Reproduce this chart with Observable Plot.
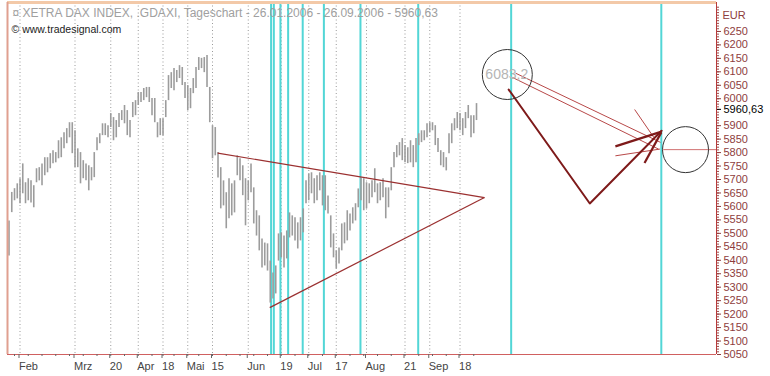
<!DOCTYPE html>
<html><head><meta charset="utf-8">
<script src="https://cdn.jsdelivr.net/npm/d3@7"></script>
<script src="https://cdn.jsdelivr.net/npm/@observablehq/plot@0.6"></script>
<style>html,body{margin:0;padding:0;background:#fff;} svg{display:block}</style>
</head><body><div id="chart"></div>
<script>
// Daily bars (trading-day index 0 = 26.01.2006 ... 170 = 26.09.2006)
const highs = [5546,5652,5666,5684,5703,5758,5688,5703,5695,5677,5740,5744,5758,5781,5781,5796,5807,5800,5844,5855,
5874,5889,5911,5911,5881,5814,5800,5770,5758,5751,5744,5800,5855,5870,5907,5907,5900,5945,5930,5919,
5945,5956,5975,5956,5919,5986,5993,6023,6023,6038,6042,6042,6001,6001,5911,5926,5926,5993,6086,6097,
6112,6105,6123,6116,6060,6049,6038,6075,6116,6153,6150,6153,6161,6042,5900,5893,5800,5744,5695,5651,
5703,5684,5695,5788,5777,5751,5703,5695,5758,5669,5584,5565,5479,5464,5461,5397,5353,5379,5498,5502,
5490,5509,5576,5565,5558,5539,5558,5591,5695,5721,5725,5703,5714,5725,5714,5714,5639,5565,5498,5435,
5446,5535,5539,5584,5572,5595,5610,5665,5706,5703,5688,5684,5695,5740,5684,5688,5703,5669,5669,5744,
5800,5826,5837,5852,5826,5818,5844,5826,5852,5870,5881,5881,5907,5911,5911,5900,5852,5807,5800,5781,
5870,5907,5926,5949,5945,5926,5949,5975,5937,5937,5982];
const lows = [5416,5577,5621,5628,5610,5647,5610,5621,5613,5595,5688,5695,5677,5714,5725,5740,5759,5762,5777,5781,
5814,5833,5855,5796,5744,5744,5684,5703,5695,5658,5695,5707,5807,5833,5863,5863,5855,5893,5844,5855,
5893,5919,5907,5863,5855,5930,5937,5975,5986,5993,6004,5986,5937,5911,5855,5863,5863,5930,5993,6038,
6030,6060,6075,6049,6001,5956,5963,6019,6038,6105,6112,6097,6042,5911,5777,5788,5706,5591,5602,5517,
5554,5565,5576,5714,5695,5640,5528,5621,5651,5535,5490,5435,5371,5379,5360,5241,5256,5275,5397,5409,
5371,5405,5483,5490,5472,5442,5472,5502,5610,5621,5647,5610,5621,5658,5602,5584,5572,5446,5409,5368,
5386,5435,5461,5472,5509,5535,5546,5595,5621,5584,5591,5610,5632,5651,5610,5621,5632,5554,5595,5658,
5744,5781,5788,5770,5762,5759,5762,5744,5762,5826,5837,5844,5855,5874,5881,5826,5800,5751,5744,5732,
5796,5833,5881,5889,5881,5863,5889,5926,5855,5870,5919];
const lastPrice = 5960.63;

// Axis ticks
const xTickIdx = [4, 24, 37, 47, 56, 65, 74, 87, 99, 109, 119, 130, 144, 153, 164];
const xTickLabels = ["Feb","Mrz","20","Apr","18","Mai","15","Jun","19","Jul","17","Aug","21","Sep","18"];
const weekIdx = [2,7,12,17,22,27,32,37,42,47,52,56,60,65,69,74,79,84,89,94,99,104,109,114,119,124,129,134,139,144,149,154,159,164,169];
const yTickVals = [5050,5100,5150,5200,5250,5300,5350,5400,5450,5500,5550,5600,5650,5700,5750,5800,5850,5900,6000,6050,6100,6150,6200,6250];

// Drawing tools (time lines, trend lines, circles, arrows)
const cyanLines = [95.3, 96.3, 98.7, 101.5, 106.8, 114.5, 127.8, 148.8, 182.6, 237.2];
const trendLines = [
  {x1: 75.9, y1: 5798, x2: 172.9, y2: 5633},
  {x1: 94.8, y1: 5224, x2: 172.9, y2: 5633}
];
const bigCircle = [{x: 181.2, y: 6090}];
const smallCircle = [{x: 246.0, y: 5811}];
const circleText = [{x: 181.0, y: 6090, t: "6083,2"}];
const arrowPath = [{x: 181.7, y: 6034}, {x: 211.2, y: 5611}, {x: 237.3, y: 5881}];
const thickStrokes = [
  {x1: 220.5, y1: 5823, x2: 237.3, y2: 5878},
  {x1: 231.1, y1: 5761, x2: 237.2, y2: 5875}
];
const thinStrokes = [
  {x1: 184.2, y1: 6095, x2: 236.9, y2: 5838},
  {x1: 183.1, y1: 6079, x2: 236.2, y2: 5813},
  {x1: 220.5, y1: 5788, x2: 236.7, y2: 5813},
  {x1: 227.5, y1: 5960, x2: 234.5, y2: 5856}
];
const levelLine = [{x1: 237.9, x2: 257.27, y: 5811}];

const xDomain = [-0.55, 257.27];
const yDomain = [5050, 6357.5];

const bars = highs.map((h, i) => ({i, high: h, low: lows[i]}));
const labelMap = new Map(xTickIdx.map((d, k) => [d, xTickLabels[k]]));
const minorY = d3.range(5050, 6350, 10);

const chart = Plot.plot({
  width: 770, height: 376,
  marginLeft: 7, marginRight: 54, marginTop: 2, marginBottom: 22,
  x: {domain: xDomain, axis: null},
  y: {domain: yDomain, axis: null},
  style: {background: "#fff", fontFamily: "'Liberation Sans', Arial, sans-serif", fontSize: "11px"},
  marks: [
    Plot.ruleX(xTickIdx, {stroke: "#9a9a9a", strokeDasharray: "1,2.5"}),
    Plot.ruleX(cyanLines, {stroke: "#52d6d6", strokeWidth: 2}),
    Plot.ruleX(bars, {x: "i", y1: "low", y2: "high", stroke: "#9c9c9c", strokeWidth: 1.6}),
    Plot.link(trendLines, {x1: "x1", y1: "y1", x2: "x2", y2: "y2", stroke: "#9b3030", strokeWidth: 1.2}),
    Plot.link(levelLine, {x1: "x1", x2: "x2", y1: "y", y2: "y", stroke: "#d07070", strokeWidth: 1}),
    Plot.link(thinStrokes, {x1: "x1", y1: "y1", x2: "x2", y2: "y2", stroke: "#b84848", strokeWidth: 1}),
    Plot.line(arrowPath, {x: "x", y: "y", stroke: "#7e1a1a", strokeWidth: 2}),
    Plot.link(thickStrokes, {x1: "x1", y1: "y1", x2: "x2", y2: "y2", stroke: "#7e1a1a", strokeWidth: 2.2}),
    Plot.dot(bigCircle, {x: "x", y: "y", r: 25, stroke: "#333", strokeWidth: 1, fill: "none"}),
    Plot.dot(smallCircle, {x: "x", y: "y", r: 23, stroke: "#333", strokeWidth: 1, fill: "none"}),
    Plot.text(circleText, {x: "x", y: "y", text: "t", fill: "#b5b5b5", fontSize: 14}),
    // frame
    Plot.ruleY([yDomain[1]], {stroke: "#f3c9a8", strokeWidth: 3}),
    Plot.ruleX([xDomain[0]], {stroke: "#e0a090", strokeWidth: 2}),
    Plot.ruleX([xDomain[1]], {stroke: "#b83a3a", strokeWidth: 1}),
    Plot.ruleY([yDomain[0]], {stroke: "#d06060", strokeWidth: 1.2}),
    // x axis
    Plot.axisX(weekIdx, {anchor: "bottom", tickSize: 2, tickFormat: () => "", stroke: "#666"}),
    Plot.axisX(xTickIdx, {anchor: "bottom", tickSize: 4, tickPadding: 4, tickFormat: d => labelMap.get(d),
      textAnchor: "start", dx: -1, fill: "#444", stroke: "#666", fontSize: 11}),
    // y axis (right)
    Plot.axisY(minorY, {anchor: "right", tickSize: 2, tickFormat: () => "", stroke: "#9b4a4a"}),
    Plot.axisY(yTickVals, {anchor: "right", tickSize: 4, tickPadding: 3, tickFormat: d => String(d),
      textAnchor: "start", fill: "#8e3d3d", stroke: "#8e3d3d", fontSize: 11}),
    Plot.axisY([lastPrice], {anchor: "right", tickSize: 4, tickPadding: 3, tickFormat: () => "5960,63",
      textAnchor: "start", fill: "#000", stroke: "#000", fontSize: 11}),
    Plot.text(["EUR"], {frameAnchor: "top-right", dx: 6, dy: 13, lineAnchor: "middle", textAnchor: "start", fill: "#8e3d3d", fontSize: 11}),
    // header texts
    Plot.text(["¤ XETRA DAX INDEX, .GDAXI, Tageschart - 26.01.2006 - 26.09.2006 - 5960,63"],
      {frameAnchor: "top-left", dx: 5, dy: 10.5, lineAnchor: "middle", textAnchor: "start", fill: "#a0a0a0", fontSize: 12}),
    Plot.text(["© www.tradesignal.com"],
      {frameAnchor: "top-left", dx: 4, dy: 27, lineAnchor: "middle", textAnchor: "start", fill: "#222", fontSize: 10.5})
  ]
});
document.getElementById("chart").append(chart);

// yellow highlight behind the last-price label
d3.select(chart).selectAll("text").each(function() {
  if (this.textContent === "5960,63") {
    const b = this.getBBox();
    if (b.x > 700) {
      d3.select(this.parentNode).insert("rect", () => this)
        .attr("x", b.x - 2).attr("y", b.y).attr("width", b.width + 6).attr("height", b.height)
        .attr("fill", "#ffffe1");
    }
  }
});
</script></body></html>
